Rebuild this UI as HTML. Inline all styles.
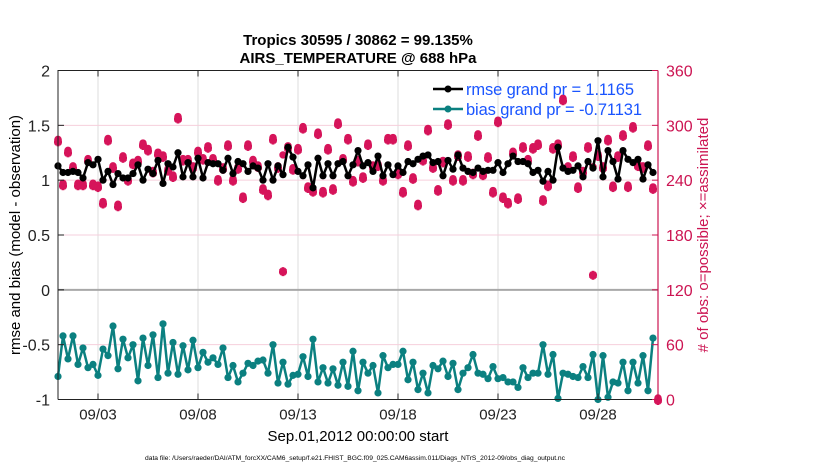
<!DOCTYPE html>
<html><head><meta charset="utf-8"><style>
body{margin:0;background:#fff;}
svg{display:block;font-family:"Liberation Sans",sans-serif;}
</style></head><body>
<svg id="chart" width="830" height="470" viewBox="0 0 830 470">
<g id="grid"></g>
<g id="series"></g>
<g id="axes"></g>
<g id="legend">
  <line x1="433" y1="89" x2="463" y2="89" stroke="#000" stroke-width="2.5"/>
  <circle cx="448" cy="89" r="3.5" fill="#000"/>
  <text x="466" y="95" font-size="16.5" fill="#1a55ff" textLength="168">rmse grand pr = 1.1165</text>
  <line x1="433" y1="109" x2="463" y2="109" stroke="#0b8080" stroke-width="2.5"/>
  <circle cx="448" cy="109" r="3.5" fill="#0b8080"/>
  <text x="466" y="115" font-size="16.5" fill="#1a55ff" textLength="176">bias grand pr = -0.71131</text>
</g>
<text x="358" y="45" font-size="15" font-weight="bold" text-anchor="middle">Tropics 30595 / 30862 = 99.135%</text>
<text x="358" y="63" font-size="15" font-weight="bold" text-anchor="middle">AIRS_TEMPERATURE @ 688 hPa</text>
<text transform="translate(20,235) rotate(-90)" font-size="15" text-anchor="middle">rmse and bias (model - observation)</text>
<text transform="translate(708,235) rotate(-90)" font-size="15" fill="#cc1452" text-anchor="middle"># of obs: o=possible; ×=assimilated</text>
<text x="358" y="441" font-size="15" text-anchor="middle">Sep.01,2012 00:00:00 start</text>
<text x="145" y="460" font-size="6.8" textLength="420" lengthAdjust="spacingAndGlyphs">data file: /Users/raeder/DAI/ATM_forcXX/CAM6_setup/f.e21.FHIST_BGC.f09_025.CAM6assim.011/Diags_NTrS_2012-09/obs_diag_output.nc</text>
</svg>
<script>
const rmse=[1.13,1.07,1.07,1.08,1.07,1.02,1.16,1.14,1.19,1.00,1.08,0.96,1.06,1.02,1.02,1.06,1.14,1.00,1.10,1.06,1.18,0.97,1.15,1.12,1.25,1.03,1.16,1.03,1.20,1.02,1.16,1.15,1.15,1.09,1.20,1.06,1.17,1.15,1.08,1.13,1.11,
1.00,1.15,1.00,1.13,1.05,1.30,1.21,1.08,1.04,1.14,0.93,1.20,1.04,1.15,1.04,1.15,1.17,1.04,1.14,1.27,1.13,1.16,1.08,1.22,1.04,1.14,1.05,1.13,1.07,1.17,1.15,1.19,1.22,1.23,1.16,1.17,1.04,1.18,1.10,1.23,
1.11,1.08,1.07,1.11,1.08,1.09,1.09,1.16,1.07,1.15,1.22,1.17,1.17,1.15,1.07,1.09,0.99,1.08,1.00,1.30,1.11,1.08,1.09,1.13,1.03,1.17,1.11,1.36,1.03,1.27,1.17,1.01,1.27,1.19,1.16,1.19,1.01,1.14,1.07];
const bias=[-0.79,-0.42,-0.63,-0.42,-0.68,-0.53,-0.71,-0.68,-0.78,-0.54,-0.60,-0.33,-0.72,-0.45,-0.62,-0.50,-0.83,-0.44,-0.69,-0.41,-0.80,-0.31,-0.76,-0.48,-0.77,-0.51,-0.73,-0.46,-0.71,-0.57,-0.66,-0.62,-0.68,-0.53,-0.80,-0.69,-0.84,-0.76,-0.67,-0.69,-0.65,-0.64,-0.76,-0.50,-0.85,-0.66,-0.86,-0.78,-0.77,-0.61,-0.79,-0.45,-0.84,-0.71,-0.85,-0.72,-0.87,-0.66,-0.88,-0.56,-0.92,
-0.66,-0.76,-0.69,-0.94,-0.60,-0.71,-0.68,-0.68,-0.56,-0.82,-0.66,-0.91,-0.76,-0.94,-0.69,-0.72,-0.65,-0.79,-0.67,-0.91,-0.76,-0.71,-0.59,-0.76,-0.77,-0.81,-0.70,-0.81,-0.80,-0.84,-0.84,-0.89,-0.71,-0.80,-0.76,-0.76,-0.50,-0.77,-0.59,-0.99,-0.76,-0.77,-0.79,-0.80,-0.70,-0.80,-0.59,-1.00,-0.60,-0.98,-0.84,-0.85,-0.66,-0.92,-0.66,-0.85,-0.60,-0.92,-0.44];
const nPossible=[283,235,271,254,235,235,262,235,233,215,284,254,212,265,240,258,261,279,273,249,269,266,251,244,308,262,262,254,271,263,276,263,240,253,278,240,253,221,278,261,255,
230,224,285,254,266,276,252,274,297,232,228,291,227,274,230,302,263,285,239,261,243,279,255,256,240,285,285,247,227,278,242,213,262,295,254,229,260,301,240,267,
240,266,247,289,246,265,227,304,221,215,270,220,276,262,275,279,218,234,275,279,328,254,266,232,249,276,253,267,254,284,233,266,289,233,298,256,254,278,231,0];
const nAssim=nPossible.map(v=>v);
nAssim[45]=141; nAssim[107]=137;
const yTicksLeft=["-1","-0.5","0","0.5","1","1.5","2"];
const yTickValsLeft=[-1,-0.5,0,0.5,1,1.5,2];
const yTickValsRight=[0,60,120,180,240,300,360];
const xTickLabels=["09/03","09/08","09/13","09/18","09/23","09/28"];
const xTickDays=[2,7,12,17,22,27];

const NS="http://www.w3.org/2000/svg";
const L=58,R=658,T=70.5,B=399.5;
const xs=d=>L+(d/30)*(R-L);
const yl=v=>B-(v+1)/3*(B-T);
const yr=v=>B-v/360*(B-T);
const idxDay=i=>i*0.25;
function mk(tag,attrs,parent){const e=document.createElementNS(NS,tag);for(const k in attrs)e.setAttribute(k,attrs[k]);parent.appendChild(e);return e;}
const grid=document.getElementById('grid'),ser=document.getElementById('series'),ax=document.getElementById('axes');

xTickDays.forEach((d,i)=>{const g=mk('line',{x1:xs(d),x2:xs(d),y1:T,y2:B,stroke:'#dcdcdc','stroke-width':1},grid);

});
yTickValsRight.forEach(v=>{if(v===0||v===360||v===120)return;const g=mk('line',{x1:L,x2:R,y1:yr(v),y2:yr(v),stroke:'#f6cfdc','stroke-width':1},grid);

});
const zl=mk('line',{x1:L,x2:R,y1:yl(0),y2:yl(0),stroke:'#a8a8a8','stroke-width':2},grid);



function star(x,y,parent,name){
  const g=mk('g',{stroke:'#d6145a','stroke-width':2.8,fill:'none'},parent);
  
  
  mk('line',{x1:x-4,x2:x+4,y1:y,y2:y},g);
  mk('line',{x1:x,x2:x,y1:y-4.5,y2:y+4.5},g);
  mk('line',{x1:x-3,x2:x+3,y1:y-3,y2:y+3},g);
  mk('line',{x1:x-3,x2:x+3,y1:y+3,y2:y-3},g);
}
nPossible.forEach((v,i)=>{const c=mk('circle',{cx:xs(idxDay(i)),cy:yr(v)-1.5,r:3,fill:'#d6145a',stroke:'#d6145a','stroke-width':1.4},ser);

});
nAssim.forEach((v,i)=>star(xs(idxDay(i)),yr(v)+1,ser,'obs-assimilated-marker'));

function line(data,color,name){
  const p=mk('polyline',{points:data.map((v,i)=>xs(idxDay(i))+','+yl(v)).join(' '),fill:'none',stroke:color,'stroke-width':2.5,'stroke-linejoin':'round'},ser);
  
  
  data.forEach((v,i)=>{const c=mk('circle',{cx:xs(idxDay(i)),cy:yl(v),r:3.6,fill:color},ser);
  
  });
}
line(rmse,'#000','rmse');
line(bias,'#0b8080','bias');

const box=mk('path',{d:`M${L},${B}V${T}H${R}M${L},${B}H${R}`,stroke:'#222',fill:'none','stroke-width':1},ax);


const ra=mk('line',{x1:R,x2:R,y1:T,y2:B,stroke:'#cc1452','stroke-width':1.2},ax);


yTickValsLeft.forEach((v,i)=>{
  mk('line',{x1:L,x2:L+6,y1:yl(v),y2:yl(v),stroke:'#222'},ax);
  const t=mk('text',{x:L-8,y:yl(v)+6,'font-size':16,'text-anchor':'end',fill:'#222'},ax);
  t.textContent=yTicksLeft[i];
  
  
});
yTickValsRight.forEach(v=>{
  mk('line',{x1:R-6,x2:R,y1:yr(v),y2:yr(v),stroke:'#cc1452'},ax);
  const t=mk('text',{x:R+8,y:yr(v)+6,'font-size':16,fill:'#cc1452'},ax);
  t.textContent=String(v);
  
  
});
xTickDays.forEach((d,i)=>{
  mk('line',{x1:xs(d),x2:xs(d),y1:B,y2:B-6,stroke:'#222'},ax);
  mk('line',{x1:xs(d),x2:xs(d),y1:T,y2:T+6,stroke:'#222'},ax);
  const t=mk('text',{x:xs(d),y:B+20,'font-size':15,'text-anchor':'middle',fill:'#222'},ax);
  t.textContent=xTickLabels[i];
  
  
});
</script>
</body></html>
